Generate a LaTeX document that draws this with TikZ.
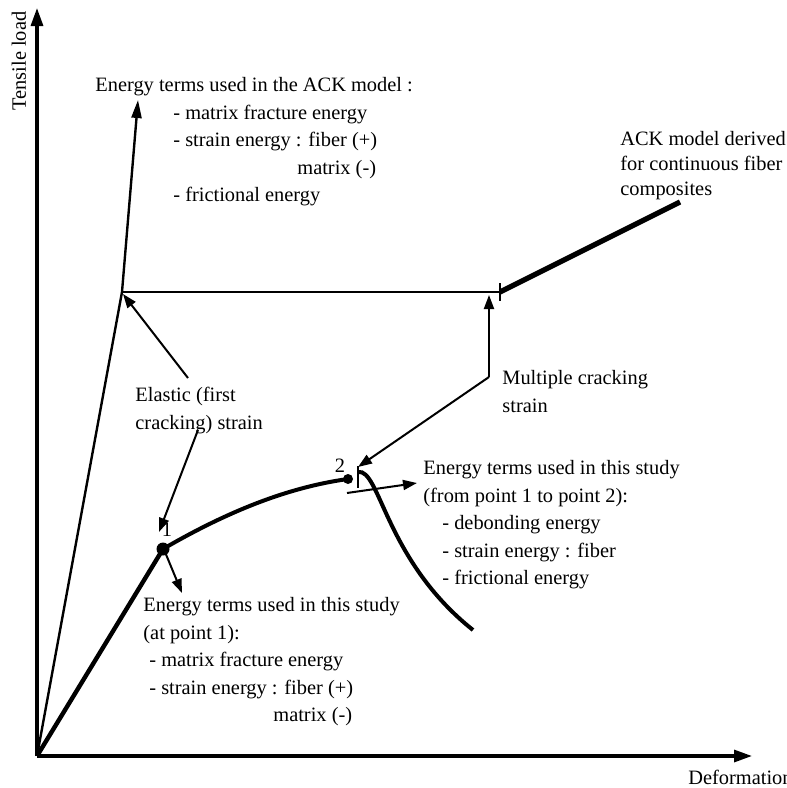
\documentclass[tikz,border=0pt]{standalone}
\usepackage{fontspec}
\setmainfont{Liberation Serif}
\usetikzlibrary{arrows.meta}

\tikzset{
  axis/.style={line width=1.6pt, -{Triangle[length=9pt,width=6pt]}},
  pointer/.style={line width=1pt, -{Triangle[length=7pt,width=5pt]}},
  txt/.style={inner sep=0pt, align=left, anchor=north west, font=\fontsize{10.2}{13.8}\selectfont},
  dot/.style={circle, fill, inner sep=0pt, minimum size=#1},
}

\begin{document}
\begin{tikzpicture}[x=0.5pt, y=-0.5pt]
  \useasboundingbox (0,0) rectangle (787,788);

  % axes
  \coordinate (O) at (37,756);
  \coordinate (ytop) at (37,8);
  \coordinate (xend) at (752,756);
  \draw[axis] (O) -- (ytop);
  \draw[axis] (O) -- (xend);
  \node[txt, anchor=center, rotate=90] (ylab) at (19,61) {Tensile load};
  \node[txt, anchor=west] (xlab) at (688,777) {Deformation};

  % ACK model curve
  \coordinate (fc) at (122,292);
  \coordinate (mc) at (500,292);
  \coordinate (acktop) at (138,100);
  \coordinate (ackend) at (680,202);
  \draw[line width=1.2pt, -{Triangle[length=9pt,width=5pt]}] (O) -- (fc) -- (acktop);
  \draw[line width=1.3pt] (fc) -- (mc);
  \draw[line width=1.3pt] (500,283) -- (500,301);
  \draw[line width=2.6pt] (mc) -- (ackend);

  % curve of this study
  \coordinate (p1) at (163,549);
  \coordinate (p2) at (348,479);
  \draw[line width=2.2pt] (O) -- (p1);
  \draw[line width=2pt] (p1) .. controls (230,510) and (290,487) .. (p2);
  \draw[line width=2pt] (358,472) .. controls (380,468) and (385,560) .. (473,630);
  \draw[line width=1.2pt] (358,466) -- (358,488);
  \node[dot=6.5pt] (d1) at (p1) {};
  \node[dot=5pt] (d2) at (p2) {};
  \node[txt, anchor=center] (n1) at (167,530) {1};
  \node[txt, anchor=center] (n2) at (340,466) {2};

  % texts
  \node[txt] (ack) at (95,77) {Energy terms used in the ACK model :\\
    \hspace*{39pt}- matrix fracture energy\\
    \hspace*{39pt}- strain energy : fiber (+)\\
    \hspace*{101pt}matrix (-)\\
    \hspace*{39pt}- frictional energy};
  \node[txt, font=\fontsize{10.2}{12.6}\selectfont] (ackfib) at (620,131) {ACK model derived\\for continuous fiber\\composites};
  \node[txt] (elastic) at (135,387) {Elastic (first\\cracking) strain};
  \node[txt] (multi) at (502,370) {Multiple cracking\\strain};
  \node[txt] (study1) at (143,597) {Energy terms used in this study\\
    (at point 1):\\
    \hspace*{3pt}- matrix fracture energy\\
    \hspace*{3pt}- strain energy : fiber (+)\\
    \hspace*{65pt}matrix (-)};
  \node[txt] (study2) at (423,460) {Energy terms used in this study\\
    (from point 1 to point 2):\\
    \hspace*{9.5pt}- debonding energy\\
    \hspace*{9.5pt}- strain energy : fiber\\
    \hspace*{9.5pt}- frictional energy};

  % pointers
  \coordinate (el1) at (188,378);
  \coordinate (el2) at (198,430);
  \coordinate (mu) at (489,377);
  \draw[pointer] (el1) -- (123,294);
  \draw[pointer] (el2) -- (159,532);
  \draw[pointer] (mu) -- (489,295);
  \draw[pointer] (mu) -- (358,467);
  \draw[pointer] (165,552) -- (182,593);
  \draw[pointer] (347,493) -- (417,483);
\end{tikzpicture}
\end{document}
